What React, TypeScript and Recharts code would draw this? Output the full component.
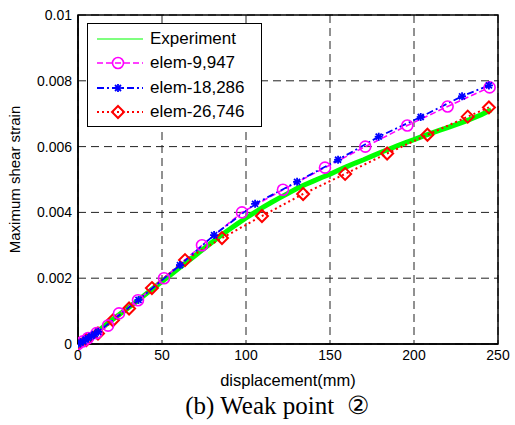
import { ComposedChart, Line, XAxis, YAxis, CartesianGrid, ReferenceArea, Label } from 'recharts';

// Experiment (thick green band)
const expX = [0, 5, 10, 15, 20, 25, 30, 35, 40, 45, 50, 55, 60, 65, 70, 75, 80, 85, 90, 95, 100, 105, 110, 115, 120, 125, 130, 135, 140, 145, 150, 155, 160, 165, 170, 175, 180, 185, 190, 195, 200, 205, 210, 215, 220, 225, 230, 235, 240, 246];
const expY = [0, 0.00015, 0.00032, 0.00052, 0.00072, 0.00091, 0.0011, 0.0013, 0.0015, 0.0017, 0.0019, 0.0021, 0.0023, 0.0025, 0.0027, 0.0029, 0.0031, 0.0033, 0.00348, 0.00366, 0.00383, 0.00399, 0.00415, 0.0043, 0.00444, 0.00458, 0.00472, 0.00484, 0.00495, 0.00506, 0.00516, 0.00528, 0.00539, 0.0055, 0.0056, 0.00571, 0.00582, 0.00592, 0.00602, 0.00612, 0.00621, 0.00631, 0.0064, 0.00649, 0.00658, 0.00667, 0.00676, 0.00686, 0.00697, 0.00712];

// elem-9,947
const e1X = [0, 3, 6, 11, 17.9, 24.4, 35.7, 51.2, 73.8, 97.6, 122, 147, 171, 196, 220, 245];
const e1Y = [0, 0.00008, 0.00018, 0.00033, 0.00056, 0.00093, 0.00133, 0.002, 0.003, 0.004, 0.00469, 0.00536, 0.006, 0.00664, 0.00722, 0.0078];

// elem-18,286
const e2X = [0, 1.5, 3, 4.5, 6, 8, 10, 12, 36, 60.7, 81, 105.4, 130.4, 154.8, 179, 204, 228.6, 244.6];
const e2Y = [0, 0.00004, 0.00008, 0.00013, 0.00018, 0.00024, 0.0003, 0.00037, 0.00134, 0.0024, 0.00331, 0.00426, 0.00493, 0.0056, 0.0063, 0.0069, 0.00753, 0.00786];

// elem-26,746
const e3X = [0, 5, 11.9, 20.8, 30.4, 44, 63.7, 85.7, 109.5, 134, 159, 184, 208, 232, 244.6];
const e3Y = [0, 0.00012, 0.00032, 0.00072, 0.00108, 0.0017, 0.00255, 0.00322, 0.00389, 0.00456, 0.00517, 0.00579, 0.00636, 0.00691, 0.00719];

const xTicks = [0, 50, 100, 150, 200, 250];
const yTicks = [0, 0.002, 0.004, 0.006, 0.008, 0.01];

const legendNames = ['Experiment', 'elem-9,947', 'elem-18,286', 'elem-26,746'];

const toRows = (xs: number[], ys: number[]) => xs.map((x, i) => ({ x, y: ys[i] }));

const expData = toRows(expX, expY);
const e1Data = toRows(e1X, e1Y);
const e2Data = toRows(e2X, e2Y);
const e3Data = toRows(e3X, e3Y);

const font = '"Liberation Sans", Arial, sans-serif';

function CircleDot(props: any) {
  const { cx, cy } = props;
  if (cx == null || cy == null) return null;
  return <circle cx={cx} cy={cy} r={5.5} fill="none" stroke="#ff00ff" strokeWidth={1.6} />;
}

function StarDot(props: any) {
  const { cx, cy } = props;
  if (cx == null || cy == null) return null;
  const s = 4;
  return (
    <g stroke="#0000ff" strokeWidth={1.8}>
      <line x1={cx - s} y1={cy} x2={cx + s} y2={cy} />
      <line x1={cx} y1={cy - s} x2={cx} y2={cy + s} />
      <line x1={cx - 3} y1={cy - 3} x2={cx + 3} y2={cy + 3} />
      <line x1={cx - 3} y1={cy + 3} x2={cx + 3} y2={cy - 3} />
    </g>
  );
}

function DiamondDot(props: any) {
  const { cx, cy } = props;
  if (cx == null || cy == null) return null;
  const s = 6;
  return (
    <polygon
      points={`${cx},${cy - s} ${cx + s},${cy} ${cx},${cy + s} ${cx - s},${cy}`}
      fill="none"
      stroke="#ff0000"
      strokeWidth={2}
    />
  );
}

function LegendBox() {
  const rows = [
    { stroke: '#00ff00', dash: undefined, w: 1.2, mark: null },
    { stroke: '#ff00ff', dash: '6 3', w: 1.6, mark: <CircleDot cx={24} cy={0} /> },
    { stroke: '#0000ff', dash: '7 3 2 3', w: 1.8, mark: <StarDot cx={24} cy={0} /> },
    { stroke: '#ff0000', dash: '2 3', w: 2, mark: <DiamondDot cx={24} cy={0} /> },
  ];
  return (
    <div
      style={{
        position: 'absolute',
        left: 87,
        top: 23,
        width: 175,
        height: 104,
        border: '1px solid #000',
        background: '#fff',
        boxSizing: 'border-box',
        fontFamily: font,
        fontSize: 17,
        paddingTop: 3,
      }}
    >
      {rows.map((r, i) => (
        <div key={i} style={{ display: 'flex', alignItems: 'center', height: 24.3 }}>
          <svg width={60} height={20} style={{ marginLeft: 6 }}>
            <g transform="translate(0,10)">
              <line x1={3} y1={0} x2={49} y2={0} stroke={r.stroke} strokeWidth={r.w} strokeDasharray={r.dash} />
              {r.mark}
            </g>
          </svg>
          <span style={{ color: '#000', marginLeft: -4 }}>{legendNames[i]}</span>
        </div>
      ))}
    </div>
  );
}

export default function App() {
  return (
    <div style={{ position: 'relative', width: 515, height: 425, background: '#fff' }}>
      <style>{`body{margin:0}`}</style>
      <ComposedChart width={515} height={425} margin={{ top: 15, right: 17, bottom: 51, left: 0 }}>
        <CartesianGrid stroke="#222" strokeDasharray="8 5" strokeWidth={1} />
        <XAxis
          type="number"
          dataKey="x"
          domain={[0, 250]}
          ticks={xTicks}
          allowDataOverflow
          height={30}
          tickSize={0}
          tickMargin={6}
          axisLine={{ stroke: '#000', strokeWidth: 1.5 }}
          tick={{ fill: '#000', fontSize: 14, fontFamily: font }}
        >
          <Label value="displacement(mm)" position="bottom" offset={0} style={{ fill: '#000', fontSize: 16.5, fontFamily: font }} />
        </XAxis>
        <YAxis
          type="number"
          dataKey="y"
          domain={[0, 0.01]}
          ticks={yTicks}
          width={78}
          tickSize={0}
          tickMargin={6}
          tickFormatter={(v: number) => String(Number(v.toFixed(4)))}
          axisLine={{ stroke: '#000', strokeWidth: 1.5 }}
          tick={{ fill: '#000', fontSize: 14, fontFamily: font }}
        >
          <Label
            value="Maximum shear strain"
            angle={-90}
            position="insideLeft"
            offset={15}
            style={{ fill: '#000', fontSize: 15, fontFamily: font, textAnchor: 'middle' }}
          />
        </YAxis>
        <ReferenceArea x1={0} x2={250} y1={0} y2={0.01} fill="none" stroke="#000" strokeWidth={1.5} />
        <Line data={expData} dataKey="y" type="linear" stroke="#00ff00" strokeWidth={5} dot={false} isAnimationActive={false} />
        <Line data={e3Data} dataKey="y" type="linear" stroke="#ff0000" strokeWidth={2} strokeDasharray="2 3" dot={<DiamondDot />} isAnimationActive={false} />
        <Line data={e1Data} dataKey="y" type="linear" stroke="#ff00ff" strokeWidth={1.6} strokeDasharray="6 3" dot={<CircleDot />} isAnimationActive={false} />
        <Line data={e2Data} dataKey="y" type="linear" stroke="#0000ff" strokeWidth={1.8} strokeDasharray="7 3 2 3" dot={<StarDot />} isAnimationActive={false} />
      </ComposedChart>
      <LegendBox />
      <div
        style={{
          position: 'absolute',
          left: 0,
          width: 554,
          top: 393,
          lineHeight: '26px',
          textAlign: 'center',
          fontFamily: '"Liberation Serif", "Times New Roman", serif',
          fontSize: 25,
          color: '#000',
          whiteSpace: 'pre',
        }}
      >
        (b) Weak point  ②
      </div>
    </div>
  );
}
